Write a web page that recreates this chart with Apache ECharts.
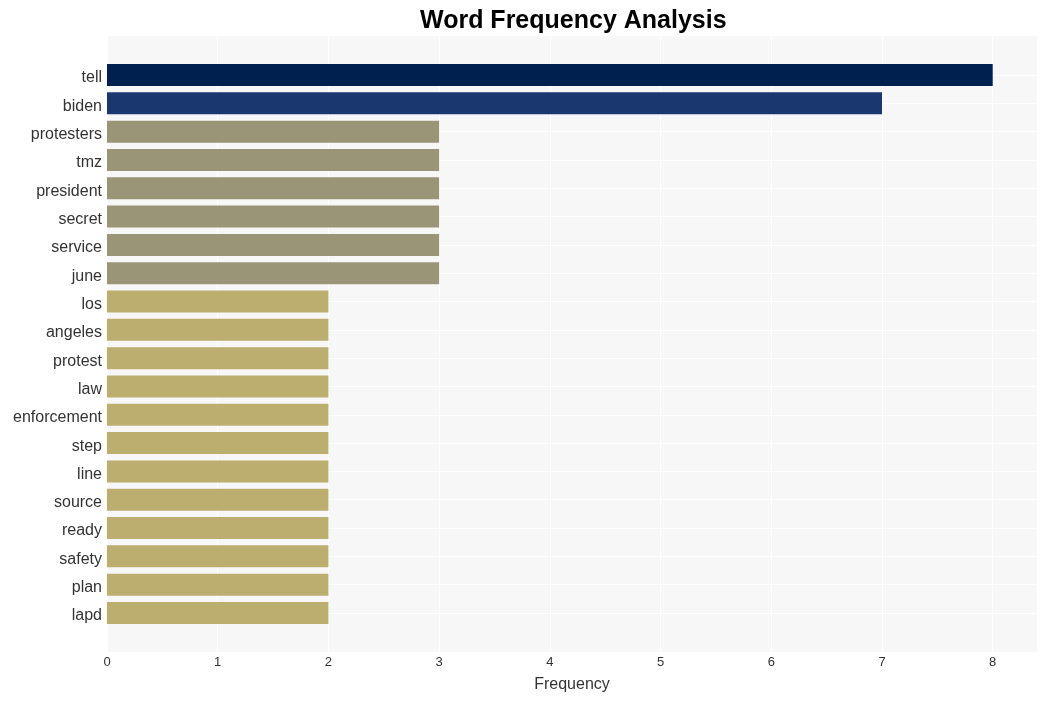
<!DOCTYPE html>
<html>
<head>
<meta charset="utf-8">
<script src="https://cdn.jsdelivr.net/npm/echarts@6/dist/echarts.min.js"></script>
<style>html,body{margin:0;padding:0;background:#fff}#c{width:1047px;height:701px}</style>
</head>
<body>
<div id="c"></div>
<script>
const categories = ['tell','biden','protesters','tmz','president','secret','service','june','los','angeles','protest','law','enforcement','step','line','source','ready','safety','plan','lapd'];
const values = [8,7,3,3,3,3,3,3,2,2,2,2,2,2,2,2,2,2,2,2];
const barColors = ['#00204f','#1b376f','#9b9577','#9b9577','#9b9577','#9b9577','#9b9577','#9b9577','#bbae6f','#bbae6f','#bbae6f','#bbae6f','#bbae6f','#bbae6f','#bbae6f','#bbae6f','#bbae6f','#bbae6f','#bbae6f','#bbae6f'];
const xTicks = [0,1,2,3,4,5,6,7,8];

const chart = echarts.init(document.getElementById('c'));
const font = 'Liberation Sans, Arial, sans-serif';
chart.setOption({
  animation: false,
  title: {
    text: 'Word Frequency Analysis', left: 415, top: 4,
    textStyle: {fontFamily: font, fontSize: 25, fontWeight: 'bold', color: '#000'}
  },
  grid: [
    {left: 107, right: 10, top: 36, bottom: 49, show: true, backgroundColor: '#f7f7f7', borderWidth: 0},
    {left: 107, right: 10, top: 75, bottom: 88}
  ],
  xAxis: [
    {type: 'value', gridIndex: 0, min: 0, max: 8.4, interval: 1,
     name: 'Frequency', nameLocation: 'middle', nameGap: 25,
     nameTextStyle: {fontFamily: font, fontSize: 16, color: '#333'},
     axisLine: {show: false}, axisTick: {show: false},
     axisLabel: {fontFamily: font, fontSize: 13, color: '#333', margin: 4,
       formatter: v => xTicks.includes(v) ? String(v) : ''},
     splitLine: {show: true, lineStyle: {color: '#ffffff', width: 1}}},
    {type: 'value', gridIndex: 1, min: 0, max: 8.4, interval: 1,
     axisLine: {show: false}, axisTick: {show: false}, axisLabel: {show: false}, splitLine: {show: false}}
  ],
  yAxis: [
    {type: 'value', gridIndex: 0, min: 0, max: 1, show: false, splitLine: {show: false}},
    {type: 'category', gridIndex: 1, data: categories, inverse: true, boundaryGap: false,
     axisLine: {show: false}, axisTick: {show: false},
     axisLabel: {margin: 5, formatter: v => '{a|' + v + '}',
       rich: {a: {fontFamily: font, fontSize: 16, color: '#333', padding: [6, 0, 0, 0]}}},
     splitLine: {show: true, lineStyle: {color: '#ffffff', width: 1}}}
  ],
  series: [{
    type: 'bar', xAxisIndex: 1, yAxisIndex: 1, barWidth: 22, clip: false,
    data: values.map((v, i) => ({value: v, itemStyle: {color: barColors[i]}}))
  }]
});
</script>
</body>
</html>
